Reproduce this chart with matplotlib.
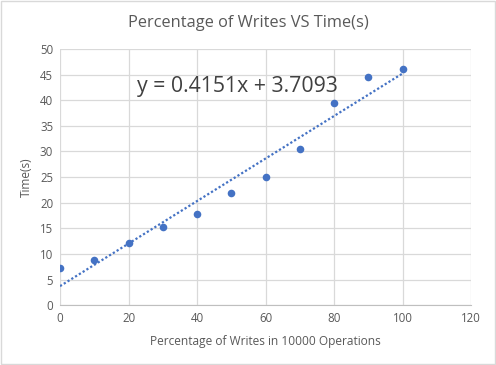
import numpy as np
import matplotlib.pyplot as plt

# Data
pct_writes = [0, 10, 20, 30, 40, 50, 60, 70, 80, 90, 100]
time_s     = [7.2, 8.8, 12.2, 15.2, 17.7, 21.8, 25.1, 30.4, 39.4, 44.5, 46.0]
SLOPE      = 0.4151
INTERCEPT  = 3.7093
x_ticks    = [0, 20, 40, 60, 80, 100, 120]
y_ticks    = [0, 5, 10, 15, 20, 25, 30, 35, 40, 45, 50]

BLUE  = "#4472C4"
GREY  = "#595959"
GRID  = "#D9D9D9"

plt.rcParams["font.family"] = ["Open Sans", "DejaVu Sans"]

fig = plt.figure(figsize=(4.96, 3.65), dpi=100)
ax = fig.add_axes([0.121, 0.164, 0.829, 0.702])

ax.scatter(pct_writes, time_s, s=30, color=BLUE, zorder=3, linewidths=0)

# linear trendline, drawn over the data range
xt = np.array([pct_writes[0], pct_writes[-1]])
ax.plot(xt, SLOPE * xt + INTERCEPT, color=BLUE, lw=1.6, ls=(0, (1, 1)), zorder=2)

ax.set_xlim(0, 120)
ax.set_ylim(0, 50)
ax.set_xticks(x_ticks)
ax.set_yticks(y_ticks)
ax.tick_params(length=0, labelsize=8.3, colors=GREY, pad=5)
ax.grid(True, color=GRID, lw=0.9)
ax.set_axisbelow(True)
for s in ["top", "right", "left"]:
    ax.spines[s].set_visible(False)
ax.spines["bottom"].set_color("#BFBFBF")

ax.set_xlabel("Percentage of Writes in 10000 Operations", fontsize=8.6, color=GREY, labelpad=7)
ax.set_ylabel("Time(s)", fontsize=8.6, color=GREY, labelpad=5)
fig.text(0.5, 0.937, "Percentage of Writes VS Time(s)", ha="center", va="center",
         fontsize=11.8, color=GREY)

fig.text(0.478, 0.764, f"y = {SLOPE}x + {INTERCEPT}", ha="center", va="center",
         fontsize=15.3, color="#404040")

# chart border
fig.patches.append(plt.Rectangle((0.002, 0.003), 0.996, 0.994, transform=fig.transFigure,
                                 fill=False, edgecolor="#D9D9D9", lw=1))

fig.savefig("out.png", dpi=100)
